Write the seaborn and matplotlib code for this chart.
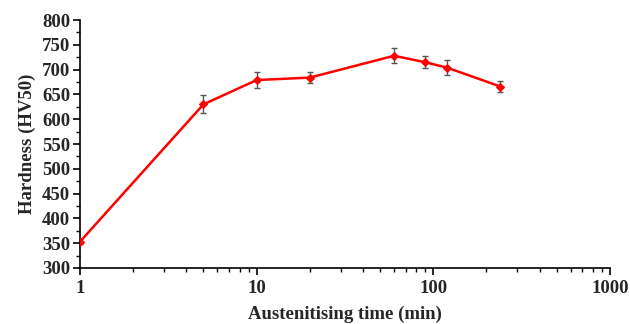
import pandas as pd
import numpy as np
import matplotlib
matplotlib.use('Agg')
import matplotlib.pyplot as plt
import seaborn as sns
from matplotlib.ticker import LogLocator, MultipleLocator, NullFormatter

# Data
time_min = [1, 5, 10, 20, 60, 90, 120, 240]
hardness = [353, 630, 679, 684, 728, 715, 704, 666]
hardness_err = [5, 18, 17, 11, 15, 12, 15, 12]

df = pd.DataFrame({'time': time_min, 'hardness': hardness, 'err': hardness_err})

sns.set_style('ticks')
plt.rcParams['font.family'] = ['Liberation Serif', 'DejaVu Serif']
plt.rcParams['font.weight'] = 'bold'

fig = plt.figure(figsize=(6.3, 3.24), dpi=100)
ax = fig.add_axes([0.127, 0.173, 0.841, 0.765])

ax.errorbar(df['time'], df['hardness'], yerr=df['err'], fmt='none',
            ecolor='#555555', elinewidth=1, capsize=2, capthick=1, zorder=2)
sns.lineplot(data=df, x='time', y='hardness', ax=ax, color='#ff0000',
             marker='D', markersize=4, markeredgecolor='#ff0000',
             linewidth=1.8, zorder=3)

ax.set_xscale('log')
ax.set_xlim(1, 1000)
ax.set_ylim(300, 800)
ax.yaxis.set_major_locator(MultipleLocator(50))
ax.yaxis.set_minor_locator(MultipleLocator(25))
ax.xaxis.set_minor_locator(LogLocator(base=10, subs=np.arange(2, 10)))
ax.xaxis.set_minor_formatter(NullFormatter())
ax.set_xticks([1, 10, 100, 1000])
ax.set_xticklabels(['1', '10', '100', '1000'])

ax.tick_params(axis='both', which='major', labelsize=13.5, length=5, width=1.2, color='black')
ax.tick_params(axis='y', which='major', pad=2)
ax.tick_params(axis='x', which='major', pad=4)
ax.tick_params(axis='both', which='minor', length=3, width=1, color='black')
for lbl in ax.get_xticklabels() + ax.get_yticklabels():
    lbl.set_fontweight('bold')

sns.despine(ax=ax)
for s in ['left', 'bottom']:
    ax.spines[s].set_linewidth(1.2)
    ax.spines[s].set_color('black')

ax.set_xlabel('Austenitising time (min)', fontsize=13.5, fontweight='bold', labelpad=6)
ax.set_ylabel('Hardness (HV50)', fontsize=13.5, fontweight='bold', labelpad=4)

fig.savefig('out.png', dpi=100)
